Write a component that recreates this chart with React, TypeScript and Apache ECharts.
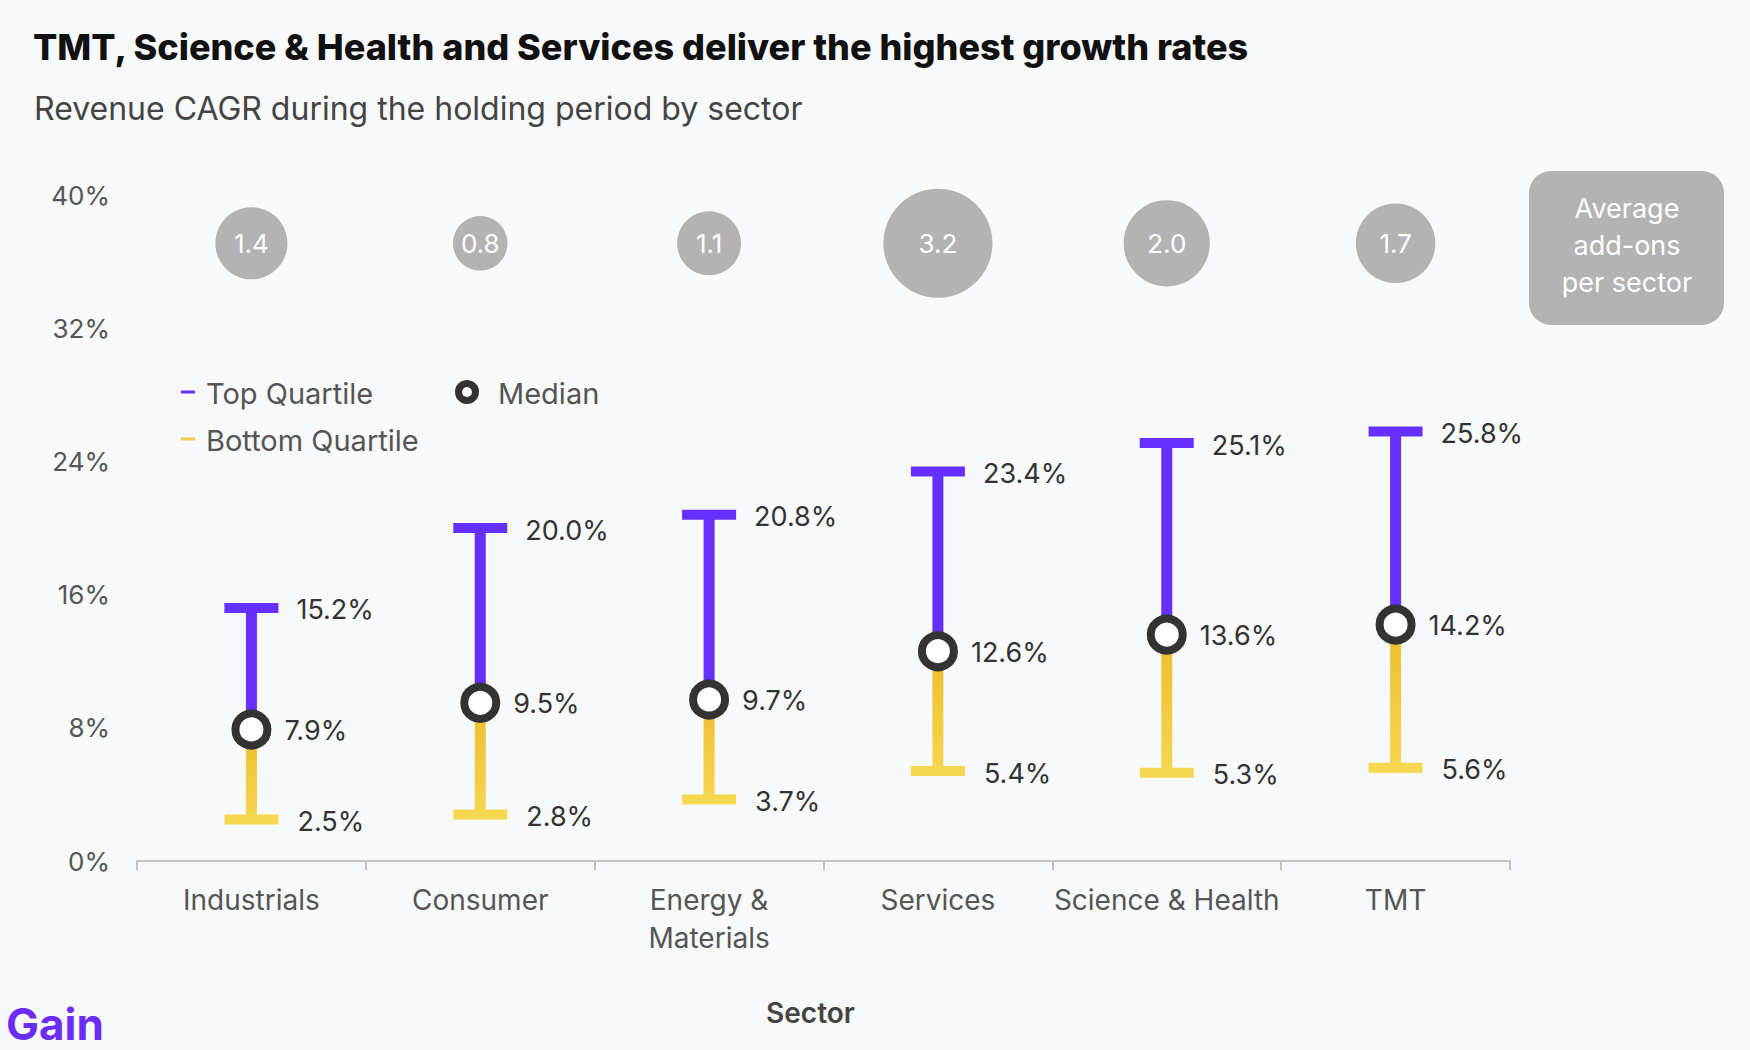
import React, { useEffect, useRef } from "react";
import * as echarts from "echarts";

const categories = ["Industrials", "Consumer", "Energy &\nMaterials", "Services", "Science & Health", "TMT"];
const topQuartile = [15.2, 20.0, 20.8, 23.4, 25.1, 25.8];
const medianValues = [7.9, 9.5, 9.7, 12.6, 13.6, 14.2];
const bottomQuartile = [2.5, 2.8, 3.7, 5.4, 5.3, 5.6];
const avgAddOns = [1.4, 0.8, 1.1, 3.2, 2.0, 1.7];
const yMin = 0;
const yMax = 40;
const yInterval = 8;

const PURPLE = "#6530ff";
const YELLOW_CAP = "#f5d84f";
const FONT = "Inter, 'Noto Sans', sans-serif";
const BUBBLE_ROW = 37.1;

export default function App() {
  const ref = useRef<HTMLDivElement>(null);

  useEffect(() => {
    if (!ref.current) return;
    const chart = echarts.init(ref.current, undefined, { renderer: "svg" });

    const rangeData = categories.map((_, i) => [i, bottomQuartile[i], medianValues[i], topQuartile[i]]);

    const txt = (x: number, y: number, text: string, size: number, color: string, weight: any = "normal", align = "left") => ({
      type: "text",
      x,
      y,
      style: {
        text,
        fill: color,
        fontSize: size,
        fontFamily: FONT,
        fontWeight: weight,
        align,
        textAlign: align,
        verticalAlign: "middle",
        textVerticalAlign: "middle",
      },
    });

    const option: any = {
      animation: false,
      backgroundColor: "#f8f9fb",
      textStyle: { fontFamily: FONT },
      grid: { left: 137, right: 240, top: 195, bottom: 189, containLabel: false },
      xAxis: {
        type: "category",
        data: categories,
        boundaryGap: true,
        axisLine: { lineStyle: { color: "#c4c4c4", width: 2 } },
        axisTick: { show: true, length: 9, lineStyle: { color: "#c4c4c4", width: 2 } },
        axisLabel: { color: "#555", fontSize: 28, margin: 20, lineHeight: 38, fontFamily: FONT, interval: 0 },
        name: "Sector",
        nameLocation: "middle",
        nameGap: 138,
        nameTextStyle: { color: "#444", fontSize: 28, fontWeight: 600, fontFamily: FONT, padding: [0, 26, 0, 0] },
      },
      yAxis: {
        type: "value",
        min: yMin,
        max: yMax,
        interval: yInterval,
        axisLine: { show: false },
        axisTick: { show: false },
        splitLine: { show: false },
        axisLabel: { color: "#555", fontSize: 26, margin: 27, formatter: "{value}%", fontFamily: FONT },
      },
      series: [
        {
          type: "custom",
          data: rangeData,
          encode: { x: 0, y: [1, 2, 3] },
          renderItem: (params: any, api: any) => {
            const i = api.value(0);
            const x = api.coord([i, 0])[0];
            const yB = api.coord([i, api.value(1)])[1];
            const yM = api.coord([i, api.value(2)])[1];
            const yT = api.coord([i, api.value(3)])[1];
            const lw = 11;
            const capW = 54;
            const capH = 10;
            return {
              type: "group",
              children: [
                { type: "rect", shape: { x: x - lw / 2, y: yT, width: lw, height: yM - yT }, style: { fill: PURPLE } },
                {
                  type: "rect",
                  shape: { x: x - lw / 2, y: yM, width: lw, height: yB - yM },
                  style: {
                    fill: new echarts.graphic.LinearGradient(0, 0, 0, 1, [
                      { offset: 0, color: "#ecbd2f" },
                      { offset: 1, color: "#f5d64f" },
                    ]),
                  },
                },
                { type: "rect", shape: { x: x - capW / 2, y: yT - capH / 2, width: capW, height: capH }, style: { fill: PURPLE } },
                { type: "rect", shape: { x: x - capW / 2, y: yB - capH / 2, width: capW, height: capH }, style: { fill: YELLOW_CAP } },
                { type: "circle", shape: { cx: x, cy: yM, r: 16 }, style: { fill: "#ffffff", stroke: "#333333", lineWidth: 8 } },
                txt(x + 45, yT + 2, api.value(3).toFixed(1) + "%", 27, "#333"),
                txt(x + 33, yM + 1, api.value(2).toFixed(1) + "%", 27, "#333"),
                txt(x + 46, yB + 2, api.value(1).toFixed(1) + "%", 27, "#333"),
              ],
            };
          },
          z: 3,
        },
        {
          type: "scatter",
          data: categories.map((_, i) => [i, BUBBLE_ROW]),
          symbolSize: (_v: any, p: any) => 61 * Math.sqrt(avgAddOns[p.dataIndex]),
          itemStyle: { color: "#b3b3b3", opacity: 1 },
          label: {
            show: true,
            position: "inside",
            formatter: (p: any) => avgAddOns[p.dataIndex].toFixed(1),
            color: "#ffffff",
            fontSize: 26,
            fontFamily: FONT,
          },
          emphasis: { disabled: true },
          z: 2,
        },
      ],
      graphic: [
        txt(33, 47, "TMT, Science & Health and Services deliver the highest growth rates", 36, "#111", 800),
        txt(34, 108, "Revenue CAGR during the holding period by sector", 32, "#444"),
        { type: "line", shape: { x1: 181, y1: 392, x2: 195, y2: 392 }, style: { stroke: PURPLE, lineWidth: 3 } },
        txt(206, 393, "Top Quartile", 29, "#555"),
        { type: "line", shape: { x1: 181, y1: 439, x2: 195, y2: 439 }, style: { stroke: "#f2cf4a", lineWidth: 3 } },
        txt(206, 440, "Bottom Quartile", 29, "#555"),
        { type: "circle", shape: { cx: 467, cy: 392, r: 8.5 }, style: { fill: "#ffffff", stroke: "#333333", lineWidth: 7 } },
        txt(498, 393, "Median", 29, "#555"),
        { type: "rect", shape: { x: 1529, y: 171, width: 195, height: 154, r: 22 }, style: { fill: "#b3b3b3" } },
        {
          type: "text",
          x: 1627,
          y: 245,
          style: {
            text: "Average\nadd-ons\nper sector",
            fill: "#ffffff",
            fontSize: 27,
            lineHeight: 37,
            fontFamily: FONT,
            align: "center",
            textAlign: "center",
            verticalAlign: "middle",
            textVerticalAlign: "middle",
          },
        },
        txt(6, 1024, "Gain", 44, "#6b2cf5", 700),
      ],
    };

    chart.setOption(option);
    return () => chart.dispose();
  }, []);

  return (
    <div
      ref={ref}
      style={{ position: "fixed", left: 0, top: 0, width: 1750, height: 1050, background: "#f8f9fb" }}
    />
  );
}
